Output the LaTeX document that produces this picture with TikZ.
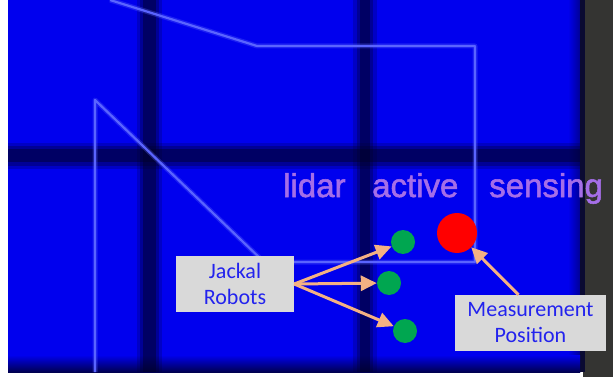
\documentclass[tikz,border=0pt]{standalone}
\usepackage{fontspec}
\newfontfamily\calibf{Carlito}
\newfontfamily\arialf[FakeBold=1.6]{Liberation Sans}
\usetikzlibrary{arrows.meta}
\definecolor{bgblue}{RGB}{0,0,238}
\definecolor{bandc}{RGB}{0,0,40}
\definecolor{linec}{RGB}{90,100,255}
\definecolor{txtp}{RGB}{165,110,232}
\definecolor{boxg}{RGB}{217,217,217}
\definecolor{boxt}{RGB}{35,35,238}
\definecolor{arrc}{RGB}{244,177,131}
\definecolor{robg}{RGB}{0,166,80}
\definecolor{grayc}{RGB}{52,52,50}
\definecolor{edgec}{RGB}{10,10,50}
\begin{document}
\begin{tikzpicture}[x=1pt,y=-1pt,
  bandA/.style={fill=bandc,fill opacity=0.2},
  bandB/.style={fill=bandc,fill opacity=0.3},
  bandC/.style={fill=bandc,fill opacity=0.45},
  outlglow/.style={draw=linec,line width=5pt,opacity=0.3,line join=round},
  outl/.style={draw=linec,line width=2.2pt,line join=round},
  lbl/.style={font=\arialf\fontsize{33}{33}\selectfont,text=txtp,inner sep=0pt},
  callout/.style={fill=boxg,text=boxt,inner sep=0pt,align=center,
    font=\calibf\fontsize{22}{26}\selectfont},
  robot/.style={circle,fill=robg,minimum size=24pt,inner sep=0pt},
  target/.style={circle,fill=red,minimum size=40pt,inner sep=0pt},
  arr/.style={draw=arrc,line width=3pt,-{Triangle[length=16pt,width=15pt]}}]
\useasboundingbox (0,0) rectangle (613,377);
% background
\fill[white] (0,0) rectangle (613,377);
\fill[bgblue] (8,0) rectangle (583,372);
\fill[grayc] (583,0) rectangle (613,377);
\shade[left color=bgblue,right color={rgb,255:red,0;green,0;blue,150}] (568,0) rectangle (580,372);
\fill[edgec] (580,0) rectangle (585,372);
% bottom dark band
\shade[top color=bgblue,bottom color={rgb,255:red,0;green,0;blue,80}] (8,355) rectangle (580,372);
% vertical dark bands
\fill[bandA] (137,0) rectangle (162,372);
\fill[bandB] (140,0) rectangle (159,372);
\fill[bandC] (143,0) rectangle (156,372);
\fill[bandA] (353,0) rectangle (377,372);
\fill[bandB] (357,0) rectangle (373,372);
\fill[bandC] (360,0) rectangle (370,372);
% horizontal dark band
\fill[bandA] (8,143) rectangle (580,169);
\fill[bandB] (8,146) rectangle (580,166);
\fill[bandC] (8,149) rectangle (580,162);
% light outline
\draw[outlglow] (95,372) -- (95,100) -- (264,262) -- (475,262) -- (475,46) -- (257,46) -- (110,0);
\draw[outl] (95,372) -- (95,100) -- (264,262) -- (475,262) -- (475,46) -- (257,46) -- (110,0);
% label text
\node[lbl,anchor=base west] (t1) at (283,197) {lidar};
\node[lbl,anchor=base west] (t2) at (372,197) {active};
\node[lbl,anchor=base west] (t3) at (489,197) {sensing};
% robots and target
\node[robot] (g1) at (403,242) {};
\node[robot] (g2) at (389,283) {};
\node[robot] (g3) at (405,331) {};
\node[target] (mpos) at (457,233) {};
% callouts
\node[callout,minimum width=118pt,minimum height=56pt] (jr) at (235,284) {Jackal\\Robots};
\node[callout,minimum width=151pt,minimum height=56pt] (mp) at (530.5,323) {Measurement\\Position};
% arrows
\draw[arr] (jr.east) -- (g1);
\draw[arr] (jr.east) -- (g2);
\draw[arr] (jr.east) -- (g3);
\draw[arr] ([xshift=-12pt]mp.north) -- (mpos);
\end{tikzpicture}
\end{document}
